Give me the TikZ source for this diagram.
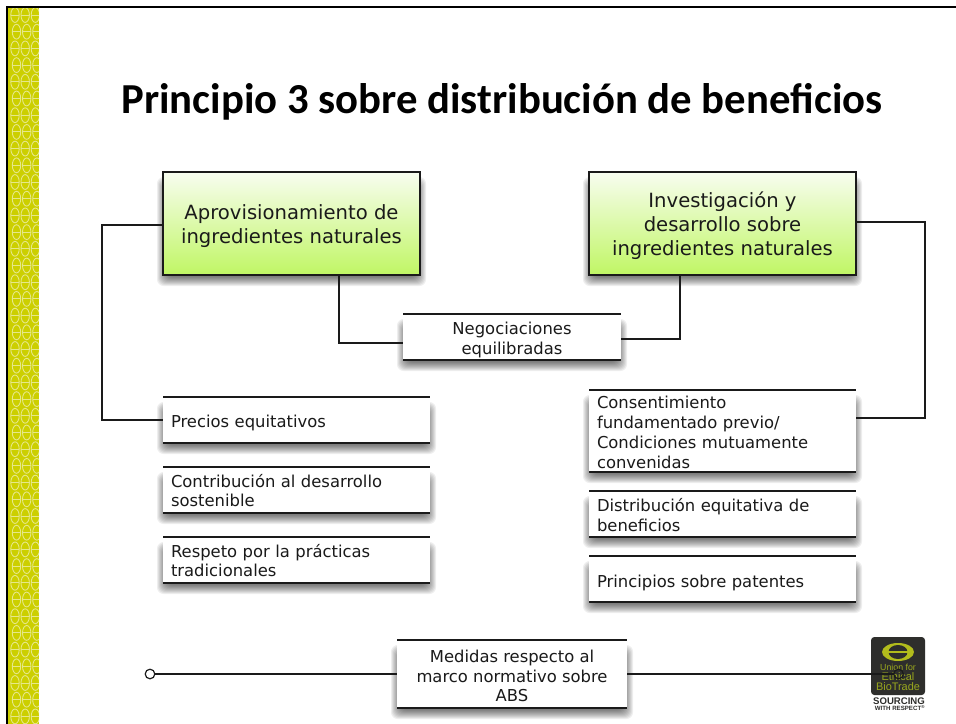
\documentclass[tikz,border=0pt]{standalone}
\usepackage{fontspec}
\setmainfont{DejaVu Sans}
\newfontfamily\titlefont{Carlito}
\newfontfamily\logofont{Liberation Sans}
\usetikzlibrary{backgrounds,calc}
\definecolor{stripe}{HTML}{CCCF00}
\definecolor{stripelight}{HTML}{E6E88A}
\definecolor{logodark}{HTML}{2E2E2C}
\definecolor{logoyellow}{HTML}{B2BC1C}
\definecolor{logotext}{HTML}{9AA81E}
\definecolor{ink}{HTML}{1A1A1A}
\newcommand\pd[1]{\rule{0pt}{\dimexpr 0.76em+#1pt\relax}}
\tikzset{
  x=0.75pt,y=-0.75pt,
  boxsize/.style 2 args={minimum width=#1*0.75pt,minimum height=#2*0.75pt,inner sep=0pt,outer sep=0pt},
  greenbox/.style={draw=ink,line width=1.1pt,text=ink,
    top color={rgb,255:red,248;green,253;blue,240},bottom color={rgb,255:red,192;green,246;blue,100},
    align=center,font=\fontsize{14.7}{18}\selectfont},
  whitebox/.style={fill=white,text=ink,font=\fontsize{12.3}{14.8}\selectfont},
  conn/.style={draw=ink,line width=1pt},
  edgetop/.style={draw=ink,line width=0.9pt},
  edgebot/.style={draw=ink,line width=1.5pt},
  endring/.style={circle,draw=ink,line width=0.9pt,minimum size=7.2pt,inner sep=0pt,outer sep=0pt},
}
\begin{document}
\begin{tikzpicture}
\useasboundingbox (0,0) rectangle (956,724);
% patterned strip and frame
\fill[stripe] (8,8) rectangle (39,724);
\begin{scope}
\clip (8,8) rectangle (39,724);
\foreach \r in {0,...,43}{
  \foreach \c in {0,1,2}{
    \pgfmathsetmacro{\cx}{15+\c*10.2+mod(\r,2)*1.5}
    \pgfmathsetmacro{\cy}{15+\r*16.7}
    \draw[stripelight,line width=0.65pt] (\cx,\cy) ellipse [x radius=4.2,y radius=7.4];
    \draw[stripelight,line width=0.65pt] (\cx-4,\cy) -- (\cx+4,\cy);
  }
}
\end{scope}
\fill[black] (6,6) rectangle (956,8);
\fill[black] (6,6) rectangle (8,724);
% title
\node[font=\titlefont\bfseries\fontsize{32.05}{38}\selectfont] (title) at (502,101.5) {Principio 3 sobre distribución de beneficios};
% boxes
\node[greenbox,boxsize={257}{103}] (aprov) at (291.5,223.5) {\pd{4.5}Aprovisionamiento de\\ingredientes naturales};
\node[greenbox,boxsize={267}{103}] (invest) at (722.5,223.5) {\pd{4.5}Investigación y\\desarrollo sobre\\ingredientes naturales};
\node[whitebox,boxsize={218}{46},align=center] (nego) at (512,337) {\pd{4.5}Negociaciones\\equilibradas};
\node[whitebox,boxsize={267}{46},align=left,text width=251*0.75pt] (precios) at (296.5,420) {\pd{4.5}Precios equitativos};
\node[whitebox,boxsize={267}{46},align=left,text width=251*0.75pt] (contrib) at (296.5,490) {\pd{1.5}Contribución al desarrollo\\sostenible};
\node[whitebox,boxsize={267}{46},align=left,text width=251*0.75pt] (respeto) at (296.5,560) {\pd{1.5}Respeto por la prácticas\\tradicionales};
\node[whitebox,boxsize={267}{82},align=left,text width=251*0.75pt] (consent) at (722.5,431) {\pd{2.2}Consentimiento\\fundamentado previo/\\Condiciones mutuamente\\convenidas};
\node[whitebox,boxsize={267}{46},align=left,text width=251*0.75pt] (distrib) at (722.5,514) {\pd{2.2}Distribución equitativa de\\beneficios};
\node[whitebox,boxsize={267}{46},align=left,text width=251*0.75pt] (patentes) at (722.5,579) {\pd{6}Principios sobre patentes};
\node[whitebox,boxsize={230}{68},align=center] (medidas) at (512,674) {\pd{3}Medidas respecto al\\marco normativo sobre\\ABS};
% top and bottom rules of the white boxes
\foreach \n in {nego,precios,contrib,respeto,consent,distrib,patentes,medidas}{
  \draw[edgetop] (\n.north west) -- (\n.north east);
  \draw[edgebot] (\n.south west) -- (\n.south east);
}
% soft shadows
\begin{scope}[on background layer]
\fill[white] (0,0) rectangle (956,724);
\foreach \n in {aprov,invest,nego,precios,contrib,respeto,consent,distrib,patentes,medidas}{
  \foreach \e in {7,6,5,4,3,2,1,0,-1,-2}{
    \fill[black,opacity=0.065,rounded corners=5pt]
      ($(\n.north west)+({-\e+1},{12-\e})$) rectangle ($(\n.south east)+({\e-1},{4+\e})$);
  }
}
\end{scope}
% logo
\node[fill=logodark,rounded corners=2.5pt,boxsize={54}{58}] (logo) at (898,666) {};
\fill[logoyellow] (898,652) ellipse [x radius=16,y radius=9];
\fill[logodark] (898,652) ellipse [x radius=9.5,y radius=7];
\fill[logoyellow] (885,651.2) rectangle (911,652.8);
\node[text=logotext,font=\logofont\fontsize{6.6}{7.4}\selectfont,align=center,inner sep=0pt] (logotxt) at (898,677.5)
  {Union for\\[0.3pt]{\fontsize{8.2}{8.8}\selectfont Ethical}\\[0.3pt]{\fontsize{8.2}{8.8}\selectfont BioTrade}};
\node[font=\logofont\bfseries\fontsize{7.2}{7.6}\selectfont,text=logodark,inner sep=0pt] (logosrc) at (899,701.5) {SOURCING};
\node[font=\logofont\bfseries\fontsize{4.6}{5}\selectfont,text=logodark,inner sep=0pt] (logoresp) at (900,708) {WITH RESPECT\textsuperscript{®}};
% connectors
\coordinate (aprovL) at (163,225);
\coordinate (aprovB) at (339,275);
\coordinate (negoL) at (403,343);
\coordinate (negoR) at (621,339);
\coordinate (investB) at (680,275);
\coordinate (investR) at (856,222);
\coordinate (consentR) at (856,418);
\coordinate (turnL) at (102,225);
\coordinate (turnR) at (925,222);
\draw[conn] (aprovL) -- (turnL) |- (precios.west);
\draw[conn] (aprovB) |- (negoL);
\draw[conn] (investB) |- (negoR);
\draw[conn] (investR) -- (turnR) |- (consentR);
\node[endring,fill=white] (ringL) at (150,674) {};
\node[endring] (ringR) at (898.5,674) {};
\draw[conn] (ringL) -- (medidas.west);
\draw[conn] (medidas.east) -- (ringR);
\end{tikzpicture}
\end{document}
